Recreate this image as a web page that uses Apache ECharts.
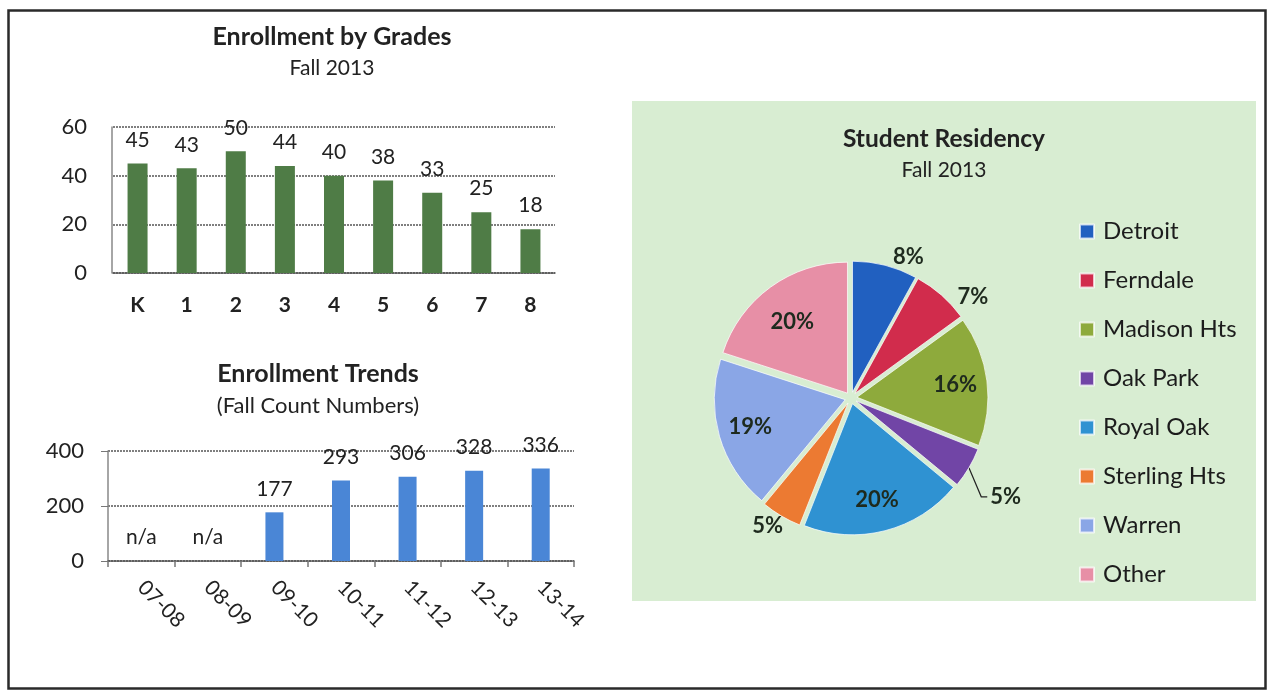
<!DOCTYPE html>
<html>
<head>
<meta charset="utf-8">
<script src="https://cdn.jsdelivr.net/npm/echarts@6/dist/echarts.min.js"></script>
<style>
  html, body { margin: 0; padding: 0; background: #fff; }
  #chart { width: 1268px; height: 690px; }
</style>
</head>
<body>
<div id="chart"></div>
<script>
const grades = ['K', '1', '2', '3', '4', '5', '6', '7', '8'];
const gradeCounts = [45, 43, 50, 44, 40, 38, 33, 25, 18];

const years = ['07-08', '08-09', '09-10', '10-11', '11-12', '12-13', '13-14'];
const yearCounts = [null, null, 177, 293, 306, 328, 336];

const towns = ['Detroit', 'Ferndale', 'Madison Hts', 'Oak Park', 'Royal Oak', 'Sterling Hts', 'Warren', 'Other'];
const townShares = [8, 7, 16, 5, 20, 5, 19, 20];
const townColors = ['#2160c0', '#d12c4c', '#8eaa3c', '#7145a6', '#2f92d2', '#ec7a32', '#8aa6e6', '#e78fa6'];

// which slices carry their percent inside the slice
const insideTowns = ['Madison Hts', 'Royal Oak', 'Warren', 'Other'];
// small nudges for the percent labels
const labelNudge = {
  'Detroit': [-6, 3],
  'Ferndale': [-3, 11],
  'Oak Park': [0, 23],
  'Sterling Hts': [19, 0],
  'Other': [3, 9]
};

const font = 'Lato, "Open Sans", sans-serif';
const ink = '#222';

function nudge(p) {
  const name = towns[p.dataIndex];
  const n = labelNudge[name];
  if (!n) return {};
  const out = { dx: n[0], dy: n[1] };
  if (name === 'Oak Park' && p.labelLinePoints) {
    // leader drops down from the slice, then turns right into the label
    const r = p.labelRect;
    const end = [r.x + n[0] - 3, r.y + r.height / 2 + n[1]];
    const turn = [end[0] - 6, end[1]];
    out.labelLinePoints = [p.labelLinePoints[0], turn, end];
  }
  return out;
}

function createConfig() {
  const pieData = towns.map((name, i) => ({
    name,
    value: townShares[i],
    selected: true,
    itemStyle: { color: townColors[i] },
    label: { show: !insideTowns.includes(name) },
    labelLine: { show: name === 'Oak Park' }
  }));
  const pieLabelData = towns.map((name, i) => ({
    name,
    value: townShares[i],
    selected: true,
    label: { show: insideTowns.includes(name) }
  }));

  const trendData = yearCounts.map(v => {
    if (v === null) return { value: 0, label: { formatter: 'n/a' } };
    return v;
  });

  const gridLine = { color: '#555', type: [2, 1], width: 1.5 };
  const pctLabel = { formatter: p => p.value + '%', fontSize: 22, fontWeight: 'bold', color: '#1e2a1e' };

  return {
    animation: false,
    textStyle: { fontFamily: font },
    graphic: [
      {
        type: 'rect', z: -10,
        shape: { x: 632, y: 101, width: 624, height: 500 },
        style: { fill: '#d8edd2' }
      },
      {
        type: 'rect', z: -10,
        shape: { x: 8.5, y: 10.5, width: 1257, height: 678 },
        style: { fill: 'none', stroke: '#2a2a2a', lineWidth: 2.5 }
      }
    ],
    title: [
      {
        text: 'Enrollment by Grades', subtext: 'Fall 2013',
        left: 332, top: 24.5, textAlign: 'center', padding: 0, itemGap: 8,
        textStyle: { fontSize: 25, fontWeight: 'bold', color: ink, fontFamily: font },
        subtextStyle: { fontSize: 21, color: ink, fontFamily: font }
      },
      {
        text: 'Enrollment Trends', subtext: '(Fall Count Numbers)',
        left: 318, top: 361, textAlign: 'center', padding: 0, itemGap: 8.5,
        textStyle: { fontSize: 25, fontWeight: 'bold', color: ink, fontFamily: font },
        subtextStyle: { fontSize: 22, color: ink, fontFamily: font }
      },
      {
        text: 'Student Residency', subtext: 'Fall 2013',
        left: 944, top: 127, textAlign: 'center', padding: 0, itemGap: 7.5,
        textStyle: { fontSize: 24.5, fontWeight: 'bold', color: ink, fontFamily: font },
        subtextStyle: { fontSize: 21, color: ink, fontFamily: font }
      }
    ],
    legend: {
      orient: 'vertical',
      left: 1074, top: 214,
      icon: 'rect',
      itemWidth: 14, itemHeight: 14, itemGap: 24,
      data: towns,
      textStyle: { fontSize: 24, lineHeight: 25, color: '#1c1c1c', fontFamily: font, padding: [0, 0, 0, 4] }
    },
    grid: [
      { left: 113, top: 127, width: 442, height: 146 },
      { left: 108, top: 451, width: 466, height: 110 }
    ],
    xAxis: [
      {
        gridIndex: 0, type: 'category', data: grades,
        axisLine: { lineStyle: gridLine },
        axisTick: { show: false },
        axisLabel: { fontSize: 21, fontWeight: 'bold', color: ink, margin: 22 }
      },
      {
        gridIndex: 1, type: 'category', data: years,
        axisLine: { lineStyle: gridLine },
        axisTick: { show: true, length: 6, lineStyle: { color: '#777', width: 1.5 } },
        axisLabel: { fontSize: 21, color: ink, rotate: -45, margin: 23 }
      }
    ],
    yAxis: [
      {
        gridIndex: 0, type: 'value', min: 0, max: 60, interval: 20, offset: 1,
        axisLine: { show: true, lineStyle: { color: '#888', width: 1.5 } },
        axisTick: { show: false },
        axisLabel: { fontSize: 22, color: ink, margin: 25 },
        splitLine: { lineStyle: gridLine }
      },
      {
        gridIndex: 1, type: 'value', min: 0, max: 400, interval: 200,
        axisLine: { show: true, lineStyle: { color: '#888', width: 1.5 } },
        axisTick: { show: true, length: 7, lineStyle: { color: '#777' } },
        axisLabel: { fontSize: 22, color: ink, margin: 24 },
        splitLine: { lineStyle: gridLine }
      }
    ],
    series: [
      {
        type: 'pie',
        center: [851, 398],
        radius: [0, 131],
        selectedMode: 'multiple',
        selectedOffset: 6,
        silent: true,
        itemStyle: { borderColor: 'rgba(255,255,255,0.7)', borderWidth: 1 },
        label: Object.assign({ position: 'outside' }, pctLabel),
        labelLine: { length: 12, length2: 6, lineStyle: { color: '#222', width: 1.2 } },
        labelLayout: nudge,
        data: pieData
      },
      {
        // transparent twin used only to place the inside labels further out
        type: 'pie',
        center: [851, 398],
        radius: [0, 192],
        selectedMode: 'multiple',
        selectedOffset: 6,
        silent: true,
        itemStyle: { color: 'rgba(0,0,0,0)' },
        label: Object.assign({ position: 'inside' }, pctLabel),
        labelLine: { show: false },
        labelLayout: nudge,
        data: pieLabelData
      },
      {
        type: 'bar', xAxisIndex: 0, yAxisIndex: 0,
        data: gradeCounts,
        barWidth: 20,
        itemStyle: { color: '#4f7c46' },
        label: { show: true, position: 'top', distance: 13, fontSize: 21, color: ink }
      },
      {
        type: 'bar', xAxisIndex: 1, yAxisIndex: 1,
        data: trendData,
        barWidth: 18,
        itemStyle: { color: '#4a86d6' },
        label: { show: true, position: 'top', distance: 13, fontSize: 21, color: ink }
      }
    ]
  };
}

const chart = echarts.init(document.getElementById('chart'));
chart.setOption(createConfig());
</script>
</body>
</html>
